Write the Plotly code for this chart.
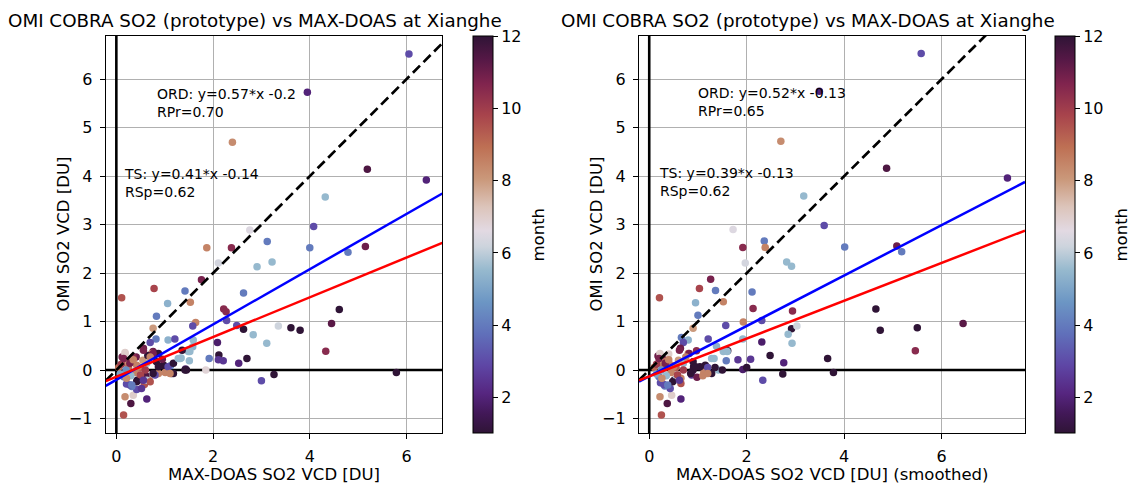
import plotly.graph_objects as go

# ---------------- data ----------------
x_left = [6.05, 3.95, 2.40, 5.19, 6.41, 4.32, 4.08, 2.76, 3.12, 1.87, 2.38, 4.00, 4.79, 5.15, 2.11, 3.22, 2.91, 1.76, 0.78, 1.42,
          2.63, 0.11, 1.53, 1.06, 4.61, 2.22, 2.27, 0.83, 2.28, 1.64, 1.58, 4.45, 2.49, 2.63, 3.35, 3.61, 3.80, 0.76, 2.83, 3.11,
          0.82, 1.07, 1.21, 0.70, 1.59, 1.58, 1.49, 1.36, 2.09, 2.12, 2.11, 2.21, 1.92, 1.34, 1.51, 2.53, 2.70, 4.33, 1.85, 1.43,
          1.14, 0.99, 1.01, 1.12, 3.26, 3.00, 5.79, 0.81, 0.63, 0.30, 0.18, 0.15, 0.35, 0.42, 0.21, 0.32, 0.43, 0.58, 0.68, 0.61,
          0.56, 0.76, 0.41, 0.12, 0.18, 0.87, 0.35, 0.73, 0.21, 0.42, 0.63, 0.83, 0.97, 1.07, 1.18, 0.15, 0.28, 0.45, 0.63, 0.52,
          0.70, 1.45, 0.87, 1.18, 0.80, 1.32, 0.05, 0.10, 0.25, 0.30, 0.50, 0.55, 0.40, 0.20, 0.08, 0.60, 0.95, 0.65, 0.30, 0.50,
          0.18, 0.15, 0.28, 0.35, 0.56, 0.76, 0.70, 0.45, 0.76, 0.87, 1.11, 0.21, 0.42, 0.32, 0.56, 1.42, 1.28, 1.52]
y_left = [6.52, 5.73, 4.70, 4.14, 3.92, 3.57, 2.96, 2.89, 2.65, 2.52, 2.52, 2.52, 2.43, 2.55, 2.21, 2.23, 2.13, 1.86, 1.68, 1.63,
          1.59, 1.49, 1.40, 1.37, 1.25, 1.26, 1.20, 1.11, 1.02, 0.98, 0.91, 0.96, 0.92, 0.84, 0.91, 0.87, 0.82, 0.86, 0.73, 0.55,
          0.64, 0.62, 0.64, 0.57, 0.62, 0.48, 0.38, 0.41, 0.57, 0.31, 0.21, 0.19, 0.24, 0.25, 0.19, 0.14, 0.24, 0.39, 0.00, 0.02,
          -0.07, 0.09, -0.05, 0.09, -0.09, -0.22, -0.05, -0.09, -0.60, -0.69, -0.55, -0.93, -0.52, -0.40, -0.29, -0.34, -0.21, -0.30, -0.21, -0.12,
          0.45, 0.38, 0.27, 0.27, 0.36, 0.34, 0.27, 0.34, 0.14, 0.10, 0.14, 0.17, 0.10, 0.07, 0.14, -0.14, -0.31, -0.21, -0.21, -0.38,
          -0.24, 0.00, -0.07, -0.07, -0.10, 0.24, 0.05, 0.12, 0.05, 0.18, 0.05, 0.20, -0.05, 0.00, -0.08, 0.00, 0.22, 0.30, -0.12, -0.10,
          0.34, 0.24, 0.14, 0.21, 0.41, 0.34, 0.27, 0.07, -0.07, 0.07, -0.07, -0.17, -0.24, -0.31, -0.21, 0.00, 0.24, 0.38]
m_left = [3, 2, 8.3, 11.5, 2, 5.5, 3, 6.5, 4, 8.5, 10.5, 4, 4, 11, 6.3, 5.5, 5.5, 10.8, 9.8, 4,
          4, 9.5, 8.5, 5.3, 12, 10.5, 10.5, 4, 3, 8.5, 3, 11.3, 3, 12, 6.2, 12, 12, 8, 5.5, 5.5,
          4, 5.3, 3, 3, 5.5, 5.3, 5.5, 12, 1.8, 12, 2.5, 2.5, 4, 5.5, 5.5, 2, 12, 10.5, 6.8, 1.8,
          12, 12, 8.5, 4, 12, 3, 12, 2.5, 2, 11.5, 8.3, 9.5, 7, 3, 3, 4, 12, 9.5, 8.5, 11.5,
          11, 11, 11, 10.8, 7, 12, 10.5, 8.5, 8.3, 8.5, 5.5, 12, 12, 3, 12, 4, 3, 12, 6, 2.5,
          9.5, 12, 8.5, 12, 3, 5.5, 9, 10, 9, 8.7, 9.3, 8, 8.5, 4.5, 5, 10, 11, 12, 5.5, 9.8,
          7, 10.8, 10.8, 8.5, 10.8, 10.8, 8.5, 8.5, 12, 12, 8.5, 8.3, 12, 4, 2.5, 12, 5.5, 5.5]

x_right = [5.58, 3.49, 2.70, 4.87, 7.35, 3.17, 3.59, 1.72, 2.36, 1.92, 2.38, 4.01, 5.08, 5.18, 1.97, 2.82, 2.92, 1.26, 1.03, 1.36,
           2.11, 0.21, 1.52, 0.95, 4.65, 2.13, 2.94, 1.00, 2.31, 1.93, 1.57, 6.44, 2.92, 3.03, 5.50, 4.74, 0.90, 2.85, 2.93, 0.66,
           0.80, 1.21, 0.70, 1.92, 2.31, 1.61, 1.52, 1.38, 5.46, 2.48, 3.66, 2.08, 1.82, 1.58, 1.28, 2.76, 1.92, 1.42, 1.28, 1.12,
           2.74, 3.78, 2.33, 0.65, 0.37, 0.22, 0.25, 0.46, 0.65, 0.51, 0.43, 0.32, 0.23, 0.65, 0.87, 0.91, 1.04, 0.64, 0.18, 0.34,
           0.40, 0.97, 0.80, 0.25, 0.45, 0.70, 0.90, 1.15, 0.20, 0.30, 0.55, 0.90, 1.20, 0.10, 0.15, 0.30, 0.35, 0.55, 0.60, 0.45,
           0.25, 0.15, 0.70, 0.35, 0.58, 0.98, 1.10, 1.35, 2.00,
           0.22, 0.20, 0.33, 0.40, 0.62, 0.82, 0.75, 0.50, 0.85, 0.95, 1.20, 0.26, 0.48, 0.38, 0.62, 1.50, 1.33, 1.60]
y_right = [6.53, 5.75, 4.72, 4.16, 3.96, 3.59, 2.98, 2.90, 2.66, 2.53, 2.53, 2.54, 2.56, 2.44, 2.21, 2.23, 2.14, 1.87, 1.68, 1.64,
           1.61, 1.49, 1.41, 1.39, 1.26, 1.27, 1.22, 1.13, 1.02, 0.99, 0.92, 0.96, 0.85, 0.91, 0.87, 0.82, 0.86, 0.74, 0.55, 0.67,
           0.62, 0.64, 0.57, 0.64, 0.58, 0.40, 0.38, 0.49, 0.40, 0.30, 0.24, 0.22, 0.21, 0.19, 0.24, 0.15, 0.01, 0.00, -0.07, -0.05,
           -0.08, -0.05, -0.21, -0.60, -0.69, -0.55, -0.93, -0.52, -0.28, -0.21, -0.38, -0.33, -0.26, -0.17, -0.10, 0.07, 0.07, 0.45, 0.29, 0.27,
           0.33, 0.40, 0.34, 0.14, 0.10, 0.14, 0.17, 0.10, -0.14, -0.30, -0.20, 0.00, 0.05, 0.05, 0.12, 0.05, 0.18, 0.05, 0.20, -0.05,
           0.00, -0.08, 0.00, -0.12, -0.10, -0.15, -0.12, 0.05, 0.05,
           0.34, 0.24, 0.14, 0.21, 0.41, 0.34, 0.27, 0.07, -0.07, 0.07, -0.07, -0.17, -0.24, -0.31, -0.21, 0.00, 0.24, 0.38]
m_right = [3, 2, 8.3, 11.5, 2, 5.5, 3, 6.5, 4, 10.5, 8.5, 4, 11, 4, 6.3, 5.5, 5.5, 10.8, 9.8, 4,
           4, 9.5, 8.5, 5.3, 12, 10.5, 10.5, 4, 3, 8.5, 3, 11.3, 12, 6.2, 12, 12, 8, 5.5, 5.5, 4,
           5.3, 3, 3, 5.5, 1.8, 12, 5.5, 5.3, 10.5, 12, 12, 2.5, 2.5, 4, 5.5, 2, 1.8, 5.5, 12, 8.5,
           12, 12, 3, 2, 11.5, 8.3, 9.5, 7, 9.5, 12, 3, 4, 3, 8.5, 2.5, 12, 12, 11, 11, 11,
           7, 10.5, 8.5, 8.3, 8.5, 5.5, 12, 12, 4, 3, 6, 12, 3, 9, 10, 9, 8.7, 9.3, 8, 8.5,
           4.5, 5, 10, 5.5, 9.8, 11, 8.5, 12, 12,
           7, 10.8, 10.8, 8.5, 10.8, 10.8, 8.5, 8.5, 12, 12, 8.5, 8.3, 12, 4, 2.5, 12, 5.5, 5.5]

# fit lines: (slope, intercept)
ord_left = (0.57, -0.20)
ts_left = (0.41, -0.14)
ord_right = (0.52, -0.13)
ts_right = (0.39, -0.13)

x_range_left = [-0.22, 6.74]
x_range_right = [-0.21, 7.71]
y_range = [-1.305, 6.89]

title = "OMI COBRA SO2 (prototype) vs MAX-DOAS at Xianghe"
ytitle = "OMI SO2 VCD [DU]"
xtitle_left = "MAX-DOAS SO2 VCD [DU]"
xtitle_right = "MAX-DOAS SO2 VCD [DU] (smoothed)"
ann_left = ("ORD: y=0.57*x -0.2<br>RPr=0.70", "TS: y=0.41*x -0.14<br>RSp=0.62")
ann_right = ("ORD: y=0.52*x -0.13<br>RPr=0.65", "TS: y=0.39*x -0.13<br>RSp=0.62")

# twilight_shifted approximation
twilight_shifted = [
    [0.00, "rgb(47,20,54)"],
    [0.05, "rgb(66,24,88)"],
    [0.10, "rgb(86,38,128)"],
    [0.17, "rgb(94,70,165)"],
    [0.25, "rgb(96,112,186)"],
    [0.33, "rgb(108,150,196)"],
    [0.41, "rgb(150,185,206)"],
    [0.47, "rgb(205,212,221)"],
    [0.51, "rgb(226,217,226)"],
    [0.57, "rgb(220,196,186)"],
    [0.64, "rgb(202,152,122)"],
    [0.72, "rgb(190,112,84)"],
    [0.80, "rgb(168,68,76)"],
    [0.88, "rgb(128,36,78)"],
    [0.94, "rgb(86,24,70)"],
    [1.00, "rgb(47,20,54)"],
]

W, H = 1131, 483
FONT = "DejaVu Sans"


def px_x(p):
    return p / W


def px_y(p):
    return 1 - p / H


fig = go.Figure()

panels = [
    dict(xs=x_left, ys=y_left, ms=m_left, ordf=ord_left, tsf=ts_left, xr=x_range_left,
         xa="x", ya="y", ca="coloraxis", anns=ann_left),
    dict(xs=x_right, ys=y_right, ms=m_right, ordf=ord_right, tsf=ts_right, xr=x_range_right,
         xa="x2", ya="y2", ca="coloraxis2", anns=ann_right),
]

for p in panels:
    xr = p["xr"]
    # zero lines
    fig.add_trace(go.Scatter(x=[0, 0], y=y_range, mode="lines", line=dict(color="black", width=2.6),
                             xaxis=p["xa"], yaxis=p["ya"], showlegend=False, hoverinfo="skip"))
    fig.add_trace(go.Scatter(x=xr, y=[0, 0], mode="lines", line=dict(color="black", width=2.6),
                             xaxis=p["xa"], yaxis=p["ya"], showlegend=False, hoverinfo="skip"))
    # scatter
    fig.add_trace(go.Scatter(x=p["xs"], y=p["ys"], mode="markers",
                             marker=dict(size=7.5, color=p["ms"], coloraxis=p["ca"], line=dict(width=0)),
                             xaxis=p["xa"], yaxis=p["ya"], showlegend=False))
    # 1:1 line
    fig.add_trace(go.Scatter(x=xr, y=xr, mode="lines", line=dict(color="black", width=2.7, dash="10px,5px"),
                             xaxis=p["xa"], yaxis=p["ya"], showlegend=False, hoverinfo="skip"))
    a, b = p["ordf"]
    fig.add_trace(go.Scatter(x=xr, y=[a * v + b for v in xr], mode="lines", line=dict(color="blue", width=2.5),
                             xaxis=p["xa"], yaxis=p["ya"], showlegend=False, hoverinfo="skip"))
    a, b = p["tsf"]
    fig.add_trace(go.Scatter(x=xr, y=[a * v + b for v in xr], mode="lines", line=dict(color="red", width=2.5),
                             xaxis=p["xa"], yaxis=p["ya"], showlegend=False, hoverinfo="skip"))

axis_common = dict(showline=True, mirror=True, linecolor="black", linewidth=1.2,
                   showgrid=True, gridcolor="#b0b0b0", gridwidth=1, zeroline=False,
                   ticks="outside", ticklen=5, tickcolor="black", tickwidth=1.2,
                   tickfont=dict(family=FONT, size=16, color="black"))

colorbar_common = dict(y=px_y(234.9), yanchor="middle",
                       thickness=20, thicknessmode="pixels", len=396.5, lenmode="pixels",
                       outlinecolor="black", outlinewidth=1, tickvals=[2, 4, 6, 8, 10, 12],
                       ticks="outside", ticklen=5, tickcolor="black",
                       tickfont=dict(family=FONT, size=16, color="black"), xpad=0, ypad=0)

fig.update_layout(
    width=W, height=H,
    margin=dict(l=0, r=0, t=0, b=0),
    paper_bgcolor="white", plot_bgcolor="white",
    font=dict(family=FONT, color="black"),
    xaxis=dict(domain=[px_x(105.7), px_x(442.3)], range=x_range_left, tickvals=[0, 2, 4, 6], anchor="y",
               ticklabelstandoff=3, **axis_common),
    yaxis=dict(domain=[px_y(433.3), px_y(36)], range=y_range, dtick=1, anchor="x",
               ticklabelstandoff=4, **axis_common),
    xaxis2=dict(domain=[px_x(639), px_x(1025)], range=x_range_right, tickvals=[0, 2, 4, 6], anchor="y2",
                ticklabelstandoff=3, **axis_common),
    yaxis2=dict(domain=[px_y(433.3), px_y(36)], range=y_range, dtick=1, anchor="x2",
                ticklabelstandoff=4, **axis_common),
    coloraxis=dict(colorscale=twilight_shifted, cmin=1, cmax=12,
                   colorbar=dict(x=px_x(472.7), xanchor="left", **colorbar_common)),
    coloraxis2=dict(colorscale=twilight_shifted, cmin=1, cmax=12,
                    colorbar=dict(x=px_x(1054.7), xanchor="left", **colorbar_common)),
)

annotations = []
# titles
for cx in (255, 808):
    annotations.append(dict(text=title, x=px_x(cx), y=px_y(20), xref="paper", yref="paper",
                            xanchor="center", yanchor="middle", showarrow=False,
                            font=dict(family=FONT, size=18.3, color="black")))
# x titles
annotations.append(dict(text=xtitle_left, x=px_x(274), y=px_y(474), xref="paper", yref="paper",
                        xanchor="center", yanchor="middle", showarrow=False, font=dict(family=FONT, size=16.5)))
annotations.append(dict(text=xtitle_right, x=px_x(832), y=px_y(474), xref="paper", yref="paper",
                        xanchor="center", yanchor="middle", showarrow=False, font=dict(family=FONT, size=16.5)))
# y titles
for cx in (63, 596):
    annotations.append(dict(text=ytitle, x=px_x(cx), y=px_y(234.5), xref="paper", yref="paper",
                            xanchor="center", yanchor="middle", textangle=-90, showarrow=False,
                            font=dict(family=FONT, size=16.5)))
# colorbar titles
for cx in (538, 1121):
    annotations.append(dict(text="month", x=px_x(cx), y=px_y(234.5), xref="paper", yref="paper",
                            xanchor="center", yanchor="middle", textangle=-90, showarrow=False,
                            font=dict(family=FONT, size=16.5)))
# fit annotations (data coords)
annotations.append(dict(text=ann_left[0], x=0.80, y=5.50, xref="x", yref="y", xanchor="left", yanchor="middle",
                        align="left", showarrow=False, font=dict(family=FONT, size=14)))
annotations.append(dict(text=ann_left[1], x=0.11, y=3.86, xref="x", yref="y", xanchor="left", yanchor="middle",
                        align="left", showarrow=False, font=dict(family=FONT, size=14)))
annotations.append(dict(text=ann_right[0], x=0.95, y=5.52, xref="x2", yref="y2", xanchor="left", yanchor="middle",
                        align="left", showarrow=False, font=dict(family=FONT, size=14)))
annotations.append(dict(text=ann_right[1], x=0.165, y=3.87, xref="x2", yref="y2", xanchor="left", yanchor="middle",
                        align="left", showarrow=False, font=dict(family=FONT, size=14)))

fig.update_layout(annotations=annotations)

fig.write_html("out.html")
